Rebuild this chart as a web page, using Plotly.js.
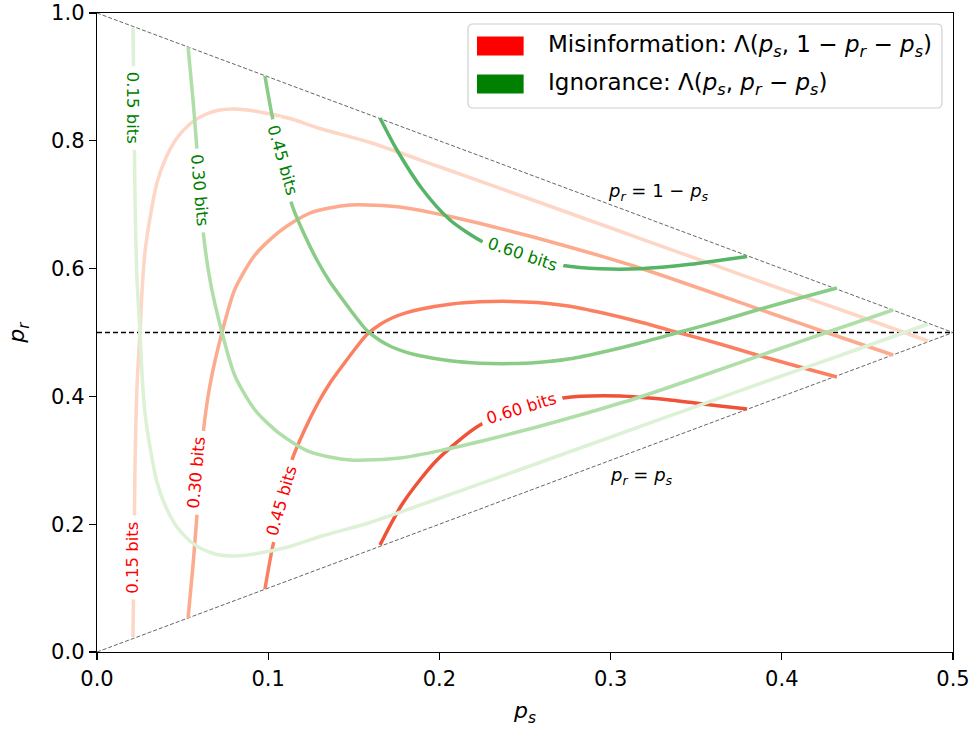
<!DOCTYPE html>
<html>
<head>
<meta charset="utf-8">
<script src="https://cdn.plot.ly/plotly-3.0.1.min.js"></script>
<style>html,body{margin:0;padding:0;background:#fff;}#chart{width:976px;height:734px;}</style>
</head>
<body>
<div id="chart"></div>
<script>
// ---- data ----
const levels = [0.15, 0.30, 0.45, 0.60];

// Misinformation contours (red)
const mis015Ps = [0.0210,0.0216,0.0222,0.0234,0.0251,0.0266,0.0280,0.0310,0.0350,0.0397,0.0467,0.0543,0.0602,0.0701,0.0806,0.0935,0.1127,0.1303,0.1595,0.2004,0.2529,0.3002,0.3522,0.3931,0.4398,0.4854];
const mis015Pr = [0.0235,0.1361,0.2926,0.4178,0.5000,0.5782,0.6252,0.6800,0.7340,0.7700,0.8044,0.8263,0.8372,0.8474,0.8498,0.8459,0.8349,0.8192,0.7973,0.7590,0.7089,0.6635,0.6135,0.5743,0.5305,0.4867];
const mis030Ps = [0.0532,0.0561,0.0584,0.0619,0.0660,0.0730,0.0806,0.0923,0.1069,0.1244,0.1478,0.1770,0.2021,0.2296,0.2570,0.2862,0.3154,0.3598,0.3931,0.4252,0.4650];
const mis030Pr = [0.0532,0.1362,0.2144,0.3396,0.4178,0.5000,0.5681,0.6213,0.6588,0.6870,0.6995,0.6964,0.6839,0.6667,0.6479,0.6260,0.6025,0.5618,0.5305,0.5008,0.4648];
const mis045Ps = [0.0981,0.1022,0.1081,0.1139,0.1215,0.1291,0.1361,0.1437,0.1507,0.1577,0.1653,0.1723,0.1799,0.1887,0.2062,0.2237,0.2412,0.2570,0.2763,0.2956,0.3172,0.3405,0.3639,0.3855,0.4106,0.4322];
const mis045Pr = [0.0986,0.1596,0.2300,0.3005,0.3490,0.3897,0.4210,0.4491,0.4742,0.4969,0.5125,0.5227,0.5302,0.5365,0.5443,0.5480,0.5487,0.5471,0.5412,0.5305,0.5164,0.4992,0.4820,0.4648,0.4460,0.4304];
const mis060Ps = [0.1653,0.1787,0.1986,0.2237,0.2477,0.2722,0.3055,0.3347,0.3639,0.3797];
const mis060Pr = [0.1674,0.2332,0.3005,0.3552,0.3803,0.3975,0.4006,0.3944,0.3850,0.3803];

// Ignorance contours (green)
const ign015Ps = [0.0210,0.0216,0.0222,0.0234,0.0251,0.0266,0.0280,0.0310,0.0350,0.0397,0.0467,0.0543,0.0602,0.0701,0.0806,0.0935,0.1127,0.1303,0.1595,0.2004,0.2529,0.3002,0.3522,0.3931,0.4398,0.4854];
const ign015Pr = [0.9765,0.8639,0.7074,0.5822,0.5000,0.4218,0.3748,0.3200,0.2660,0.2300,0.1956,0.1737,0.1628,0.1526,0.1502,0.1541,0.1651,0.1808,0.2027,0.2410,0.2911,0.3365,0.3865,0.4257,0.4695,0.5133];
const ign030Ps = [0.0532,0.0561,0.0584,0.0619,0.0660,0.0730,0.0806,0.0923,0.1069,0.1244,0.1478,0.1770,0.2021,0.2296,0.2570,0.2862,0.3154,0.3598,0.3931,0.4252,0.4650];
const ign030Pr = [0.9468,0.8638,0.7856,0.6604,0.5822,0.5000,0.4319,0.3787,0.3412,0.3130,0.3005,0.3036,0.3161,0.3333,0.3521,0.3740,0.3975,0.4382,0.4695,0.4992,0.5352];
const ign045Ps = [0.0981,0.1022,0.1081,0.1139,0.1215,0.1291,0.1361,0.1437,0.1507,0.1577,0.1653,0.1723,0.1799,0.1887,0.2062,0.2237,0.2412,0.2570,0.2763,0.2956,0.3172,0.3405,0.3639,0.3855,0.4106,0.4322];
const ign045Pr = [0.9014,0.8404,0.7700,0.6995,0.6510,0.6103,0.5790,0.5509,0.5258,0.5031,0.4875,0.4773,0.4698,0.4635,0.4557,0.4520,0.4513,0.4529,0.4588,0.4695,0.4836,0.5008,0.5180,0.5352,0.5540,0.5696];
const ign060Ps = [0.1653,0.1752,0.1904,0.2062,0.2255,0.2471,0.2722,0.2938,0.3172,0.3464,0.3797];
const ign060Pr = [0.8357,0.7856,0.7230,0.6761,0.6416,0.6197,0.6049,0.5998,0.5998,0.6067,0.6190];

// boundary / reference lines
const boundPs = [0.0, 0.5];
const upperPr = [1.0, 0.5];
const lowerPr = [0.0, 0.5];
const halfPr  = [0.5, 0.5];

const xTicks = [0.0, 0.1, 0.2, 0.3, 0.4, 0.5];
const yTicks = [0.0, 0.2, 0.4, 0.6, 0.8, 1.0];

// ---- styles ----
const redColors   = ['#fdd6c5', '#fcab8f', '#fb8062', '#ef5239'];
const greenColors = ['#dcf1d6', '#b0dea8', '#88cc85', '#56b467'];
const LW = 3.5;
const FONT = 'DejaVu Sans, Liberation Sans, sans-serif';

const misCurves = [[mis015Ps, mis015Pr], [mis030Ps, mis030Pr], [mis045Ps, mis045Pr], [mis060Ps, mis060Pr]];
const ignCurves = [[ign015Ps, ign015Pr], [ign030Ps, ign030Pr], [ign045Ps, ign045Pr], [ign060Ps, ign060Pr]];

// label placement (data coords) and angles
const misLabelPos = [[0.0210, 0.1487, -90], [0.0584, 0.2817, -85], [0.1075, 0.2363, -74], [0.2477, 0.3818, -17]];
const ignLabelPos = [[0.0213, 0.8513, 90], [0.0602, 0.7230, 85], [0.1081, 0.7700, 74], [0.2488, 0.6213, 19]];

const traces = [];
traces.push({x: boundPs, y: upperPr, mode: 'lines', line: {color: '#666', width: 1, dash: '4px,2px'}, hoverinfo: 'skip'});
traces.push({x: boundPs, y: lowerPr, mode: 'lines', line: {color: '#666', width: 1, dash: '4px,2px'}, hoverinfo: 'skip'});
traces.push({x: boundPs, y: halfPr, mode: 'lines', line: {color: '#000', width: 1.3, dash: '5px,3px'}, hoverinfo: 'skip'});

misCurves.forEach((c, i) => {
  traces.push({x: c[0], y: c[1], mode: 'lines', line: {color: redColors[i], width: LW, shape: 'spline', smoothing: 0.75}, name: 'mis ' + levels[i]});
});
ignCurves.forEach((c, i) => {
  traces.push({x: c[0], y: c[1], mode: 'lines', line: {color: greenColors[i], width: LW, shape: 'spline', smoothing: 0.75}, name: 'ign ' + levels[i]});
});

const annotations = [];
function addLabel(pos, lev, color) {
  annotations.push({
    x: pos[0], y: pos[1], xref: 'x', yref: 'y', showarrow: false,
    text: '\u00a0' + lev.toFixed(2) + ' bits\u00a0', textangle: pos[2],
    font: {family: FONT, size: 16.5, color: color},
    bgcolor: '#ffffff', borderpad: 0, xanchor: 'center', yanchor: 'middle'
  });
}
misLabelPos.forEach((p, i) => addLabel(p, levels[i], '#ff0000'));
ignLabelPos.forEach((p, i) => addLabel(p, levels[i], '#008000'));

const P = s => '<i>p<sub>' + s + '</sub></i>';

annotations.push({x: 0.328, y: 0.720, xref: 'x', yref: 'y', showarrow: false,
  text: P('r') + ' = 1 \u2212 ' + P('s'), font: {family: FONT, size: 18, color: '#000'}});
annotations.push({x: 0.318, y: 0.276, xref: 'x', yref: 'y', showarrow: false,
  text: P('r') + ' = ' + P('s'), font: {family: FONT, size: 18, color: '#000'}});

// custom legend
const legendItems = [
  {color: '#ff0000', text: 'Misinformation: \u039b(' + P('s') + ', 1 \u2212 ' + P('r') + ' \u2212 ' + P('s') + ')'},
  {color: '#008000', text: 'Ignorance: \u039b(' + P('s') + ', ' + P('r') + ' \u2212 ' + P('s') + ')'}
];
const shapes = [];
const lx0 = 0.4334, lx1 = 0.9871, ly0 = 0.8513, ly1 = 0.9828, rx = 0.006, ry = 0.008;
shapes.push({type: 'path', xref: 'paper', yref: 'paper',
  path: `M ${lx0+rx} ${ly1} L ${lx1-rx} ${ly1} Q ${lx1} ${ly1} ${lx1} ${ly1-ry} L ${lx1} ${ly0+ry} Q ${lx1} ${ly0} ${lx1-rx} ${ly0} L ${lx0+rx} ${ly0} Q ${lx0} ${ly0} ${lx0} ${ly0+ry} L ${lx0} ${ly1-ry} Q ${lx0} ${ly1} ${lx0+rx} ${ly1} Z`,
  fillcolor: 'rgba(255,255,255,0.85)', line: {color: '#d0d0d0', width: 1.2}});
const rowY = [0.9484, 0.8889];
legendItems.forEach((it, i) => {
  shapes.push({type: 'rect', xref: 'paper', yref: 'paper', x0: 0.4439, x1: 0.4984, y0: rowY[i] - 0.0149, y1: rowY[i] + 0.0149,
    fillcolor: it.color, line: {width: 0}});
  annotations.push({x: 0.5245, y: rowY[i], xref: 'paper', yref: 'paper', xanchor: 'left', yanchor: 'middle', showarrow: false,
    text: it.text, font: {family: FONT, size: 23, color: '#000'}});
});

const axisCommon = {
  showgrid: false, zeroline: false, showline: true, mirror: true, linecolor: '#000', linewidth: 1.3,
  ticks: 'outside', ticklen: 7, tickwidth: 1.3, tickcolor: '#000',
  tickfont: {family: FONT, size: 21, color: '#000'}
};

const layout = {
  width: 976, height: 734,
  margin: {l: 97, r: 23, t: 13, b: 82},
  paper_bgcolor: '#fff', plot_bgcolor: '#fff',
  showlegend: false,
  xaxis: Object.assign({}, axisCommon, {
    range: [0, 0.5], tickvals: xTicks, ticktext: xTicks.map(v => v.toFixed(1)),
    title: {text: P('s'), font: {family: FONT, size: 22, color: '#000'}, standoff: 13}
  }),
  yaxis: Object.assign({}, axisCommon, {
    range: [0, 1], tickvals: yTicks, ticktext: yTicks.map(v => v.toFixed(1)),
    title: {text: P('r'), font: {family: FONT, size: 22, color: '#000'}, standoff: 20}
  }),
  shapes: shapes,
  annotations: annotations
};

Plotly.newPlot('chart', traces, layout, {displayModeBar: false, staticPlot: true});
</script>
</body>
</html>
